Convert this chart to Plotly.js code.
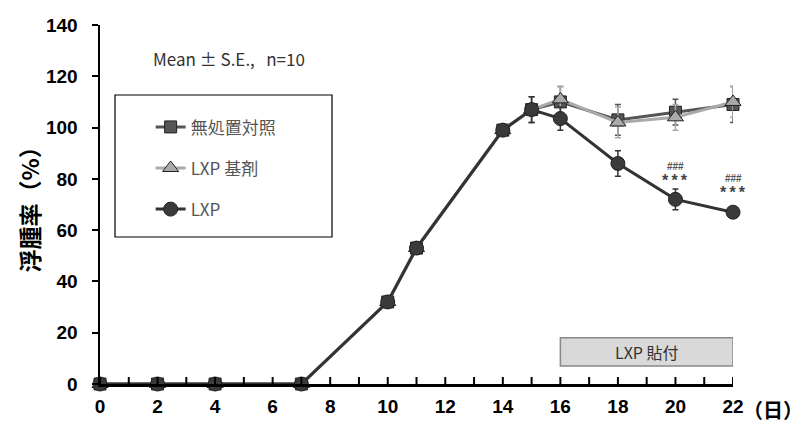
<!DOCTYPE html>
<html><head><meta charset="utf-8">
<script src="https://cdn.plot.ly/plotly-3.0.1.min.js"></script>
<style>html,body{margin:0;padding:0;background:#fff}</style>
</head><body>
<div id="chart" style="width:809px;height:427px"></div>
<script>
const days = [0, 2, 4, 7, 10, 11, 14, 15, 16, 18, 20, 22];
const controlMean = [0, 0, 0, 0, 32, 53, 99, 107, 110, 103, 106, 109];
const controlSE   = [0, 0, 0, 0, 0, 0, 0, 5, 6, 6, 5, 7];
const vehicleMean = [0, 0, 0, 0, 32, 53, 99, 107, 111, 102, 104, 110];
const vehicleSE   = [0, 0, 0, 0, 0, 0, 0, 5, 5, 6, 5, 6];
const lxpMean     = [0, 0, 0, 0, 32, 53, 99, 107, 103.5, 86, 72, 67];
const lxpSE       = [0, 0, 0, 0, 0, 0, 0, 5, 4.5, 5, 4, 2];
const seriesNames = ['無処置対照', 'LXP 基剤', 'LXP'];
const xTickVals = [0,1,2,3,4,5,6,7,8,9,10,11,12,13,14,15,16,17,18,19,20,21,22];
const xTickText = ['0','','2','','4','','6','','8','','10','','12','','14','','16','','18','','20','','22'];
const sigDays = [20, 22];
const sigY = [72, 67];

const jp = '"Noto Sans CJK JP", "Noto Sans", sans-serif';
const bold = '"Liberation Sans", Arial, sans-serif';

function tr(y, se, name, color, lineColor, symbol, size, grp) {
  return {
    x: days, y: y, name: name, type: 'scatter', mode: 'lines+markers',
    legendgroup: grp, cliponaxis: false,
    line: {color: lineColor, width: 3},
    marker: {symbol: symbol, size: size, color: color, line: {color: '#222', width: 1}},
    error_y: {type: 'data', array: se, visible: true, color: lineColor, thickness: 1.5, width: 3}
  };
}

const data = [
  tr(controlMean, controlSE, seriesNames[0], '#555', '#555', 'square', 12, 'a'),
  tr(vehicleMean, vehicleSE, seriesNames[1], '#aaa', '#aaa', 'triangle-up', 14, 'b'),
  tr(lxpMean, lxpSE, seriesNames[2], '#3a3a3a', '#333', 'circle', 14, 'c')
];

const annotations = [
  {xref: 'paper', yref: 'paper', x: 0.08, y: 0.908, xanchor: 'left', yanchor: 'middle', showarrow: false,
   text: 'Mean ± S.E.,   n=10', font: {family: jp, size: 17, color: '#333'}},
  {xref: 'paper', yref: 'paper', x: 1.012, y: -0.072, xanchor: 'left', yanchor: 'middle', showarrow: false,
   text: '（日）', font: {family: jp, size: 20, color: '#000', weight: 'bold'}},
  {xref: 'paper', yref: 'paper', x: -72 / 633, y: 0.5, xanchor: 'center', yanchor: 'middle', showarrow: false,
   textangle: -90, text: '浮腫率（%）', font: {family: jp, size: 23, color: '#000', weight: 'bold'}},
  {x: 19, y: 12.5, showarrow: false, text: 'LXP 貼付', font: {family: jp, size: 16, color: '#333'}}
];
sigDays.forEach((d, i) => {
  annotations.push({x: d, y: sigY[i] + 13, showarrow: false, text: '###', font: {family: bold, size: 10, color: '#555', weight: 'bold'}});
  annotations.push({x: d, y: sigY[i] + 7.5, showarrow: false, text: '*\u2009*\u2009*', font: {family: bold, size: 16, color: '#444', weight: 'bold'}});
});

const shapes = [
  {type: 'rect', xref: 'x', yref: 'y', x0: 16, x1: 22, y0: 7, y1: 18,
   fillcolor: '#d9d9d9', line: {color: '#888', width: 1.5}, layer: 'below'},
  {type: 'rect', xref: 'paper', yref: 'paper', x0: (115 - 100) / 633, x1: (332 - 100) / 633,
   y0: (384 - 237) / 359, y1: (384 - 95) / 359, fillcolor: '#fff', line: {color: '#000', width: 1.2}, layer: 'below'}
];
// upward (inside) x-axis tick marks at every day, anchored to the axis baseline
xTickVals.forEach(v => {
  shapes.push({type: 'line', xref: 'x', yref: 'y', ysizemode: 'pixel', yanchor: 0,
    x0: v, x1: v, y0: 0, y1: 7, line: {color: '#000', width: 2}, layer: 'above'});
});

const layout = {
  width: 809, height: 427,
  margin: {l: 100, r: 76, t: 25, b: 43},
  paper_bgcolor: '#fff', plot_bgcolor: '#fff',
  showlegend: true,
  legend: {
    x: 0.08, y: 0.765, xanchor: 'left', yanchor: 'top',
    bgcolor: 'rgba(0,0,0,0)', borderwidth: 0,
    font: {family: jp, size: 17, color: '#555'},
    traceorder: 'grouped', tracegroupgap: 16, itemwidth: 30
  },
  xaxis: {
    range: [0, 22], tickmode: 'array', tickvals: xTickVals, ticktext: xTickText,
    ticks: '', showline: true, linewidth: 2.5, linecolor: '#000', showgrid: false, zeroline: false,
    tickfont: {family: bold, size: 19, color: '#000', weight: 'bold'}, ticklabelstandoff: 4
  },
  yaxis: {
    range: [0, 140], dtick: 20,
    ticks: 'outside', ticklen: 6, tickwidth: 2, tickcolor: '#000',
    showline: true, linewidth: 2.5, linecolor: '#000', showgrid: false, zeroline: false,
    tickfont: {family: bold, size: 19, color: '#000', weight: 'bold'}, ticklabelstandoff: 10
  },
  shapes: shapes,
  annotations: annotations
};

Plotly.newPlot('chart', data, layout, {displayModeBar: false, staticPlot: true});
</script>
</body></html>
